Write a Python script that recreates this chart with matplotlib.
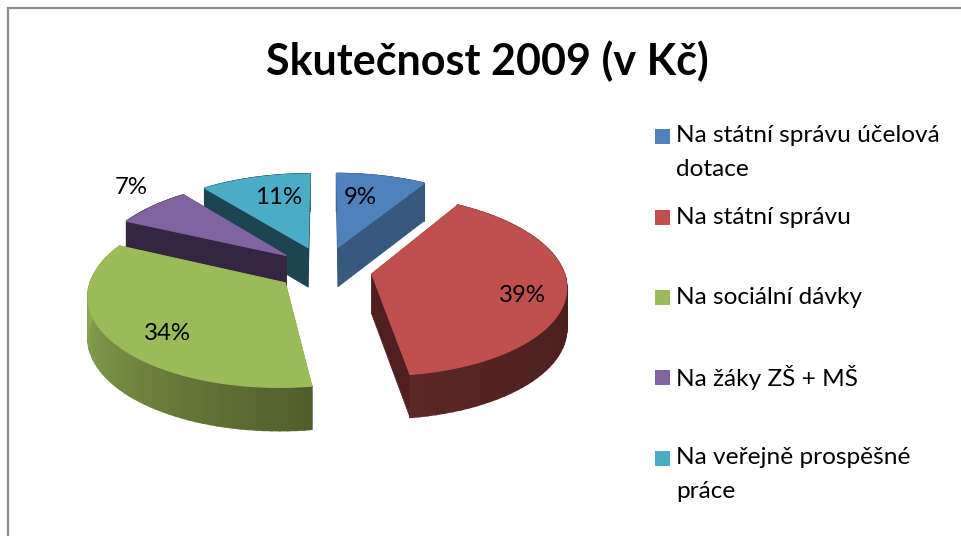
import numpy as np
import matplotlib
matplotlib.use("Agg")
import matplotlib.pyplot as plt
from matplotlib.colors import to_rgb
from matplotlib.patches import Rectangle

# Chart data
title = "Skutečnost 2009 (v Kč)"
categories = [
    "Na státní správu účelová\ndotace",
    "Na státní správu",
    "Na sociální dávky",
    "Na žáky ZŠ + MŠ",
    "Na veřejně prospěšné\npráce",
]
shares = [8.7, 39.0, 34.3, 7.4, 10.6]

# Colours
top_colors = ["#4f81bd", "#c0504d", "#9bbb59", "#8064a2", "#4bacc6"]
face_colors = ["#37587f", "#4f201f", "#546030", "#352540", "#1d4451"]
arc_stops = [
    ([0, 360], ["#37587f", "#37587f"]),
    ([90, 130, 173], ["#4a1d1c", "#4f2120", "#5c2825"]),
    ([173, 230, 270], ["#515e2c", "#748a41", "#8ca955"]),
    ([0, 360], ["#352540", "#352540"]),
    ([0, 360], ["#1d4451", "#1d4451"]),
]

# Layout of the perspective pie, in pixels
cx, cy = 324.5, 269.5
rx, ry = 191.5, 88
persp = 0.124
explode = [0.27, 0.25, 0.25, 0.26, 0.27]
depth = 40
draw_order = [4, 3, 0, 2, 1]
label_xy = [(360, 197), (522, 295), (167, 333), (131, 187), (279, 197)]
legend_y = [136, 217, 297, 377, 458]


def project(theta, r, mid, off, drop=False):
    # theta is clockwise from the top, in degrees
    t, m = np.radians(theta), np.radians(mid)
    u = r * np.sin(t) + off * np.sin(m)
    v = r * np.cos(t) + off * np.cos(m)
    s = 1 / (1 + persp * v)
    x = cx + rx * u * s
    y = cy - ry * v * s
    if drop:
        y = y + depth * np.sqrt(s)
    return x, y


fig = plt.figure(figsize=(9.61, 5.36), dpi=100)
ax = fig.add_axes([0, 0, 1, 1])
ax.set_xlim(0, 961)
ax.set_ylim(536, 0)
ax.axis("off")

# Frame of the chart: only top and left sides are in the crop
ax.plot([8, 8, 961], [536, 8, 8], color="#8c8c8c", lw=1.6, solid_joinstyle="miter")

ends = np.cumsum(shares) * 3.6
starts = ends - np.array(shares) * 3.6

for i in draw_order:
    a0, a1, mid = starts[i], ends[i], (starts[i] + ends[i]) / 2
    off = explode[i]
    thetas = np.linspace(a0, a1, 61)
    zorder = 2 + draw_order.index(i)

    # Radial side faces
    for edge in (a0, a1):
        px = [project(edge, 0, mid, off), project(edge, 1, mid, off),
              project(edge, 1, mid, off, True), project(edge, 0, mid, off, True)]
        ax.fill(*zip(*px), color=face_colors[i], lw=0.5, zorder=zorder)

    # Outer wall, cut into strips for the shading
    stops = np.array([to_rgb(c) for c in arc_stops[i][1]])
    for t0, t1 in zip(thetas[:-1], thetas[1:]):
        shade = [np.interp((t0 + t1) / 2, arc_stops[i][0], stops[:, k]) for k in range(3)]
        px = [project(t0, 1, mid, off), project(t1, 1, mid, off),
              project(t1, 1, mid, off, True), project(t0, 1, mid, off, True)]
        ax.fill(*zip(*px), color=shade, lw=1.2, zorder=zorder)

    # Top face
    xs, ys = project(thetas, 1, mid, off)
    x0, y0 = project(a0, 0, mid, off)
    ax.fill(np.r_[x0, xs], np.r_[y0, ys], color=top_colors[i], lw=0.8, zorder=zorder + 0.1)

# Percent labels
for i, share in enumerate(shares):
    ax.text(label_xy[i][0], label_xy[i][1], f"{share:.0f}%", ha="center", va="center",
            family="Lato", fontsize=17.3, color="black", zorder=20)

# Title
ax.text(487, 61, title, ha="center", va="center", family="Lato", fontweight="bold",
        fontsize=31, color="black")

# Legend
for i, name in enumerate(categories):
    ax.add_patch(Rectangle((655, legend_y[i] - 7.5), 15, 15, color=top_colors[i], lw=0))
    lines = name.split("\n")
    for j, line in enumerate(lines):
        ax.text(676, legend_y[i] + j * 33, line, ha="left", va="center",
                family="Lato", fontsize=17.6, color="black")

fig.savefig("out.png", dpi=100)
